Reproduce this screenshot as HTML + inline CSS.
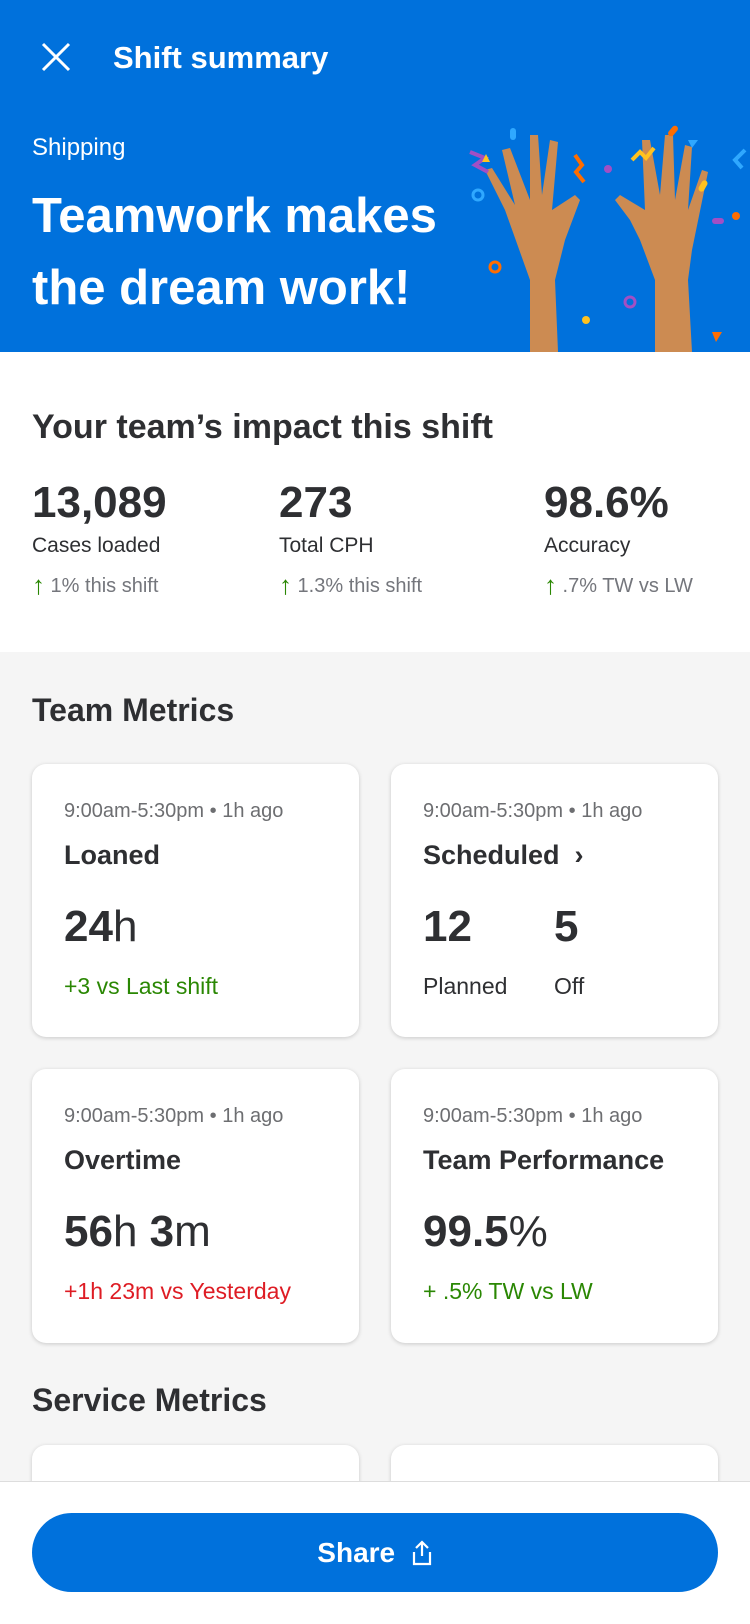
<!DOCTYPE html>
<html><head><meta charset="utf-8"><style>
*{margin:0;padding:0;box-sizing:border-box}
body{width:750px;height:1624px;overflow:hidden;font-family:"Liberation Sans",sans-serif;background:#f5f5f5;position:relative;color:#2e2f32}
.abs{position:absolute;white-space:nowrap}
#hdr{position:absolute;left:0;top:0;width:750px;height:352px;background:#0071dc;color:#fff}
#impact{position:absolute;left:0;top:352px;width:750px;height:300px;background:#fff}
.card{position:absolute;background:#fff;border-radius:14px;box-shadow:0 1px 4px rgba(0,0,0,.18);width:327px}
.card .t{position:absolute;left:32px;top:36px;font-size:20px;color:#6d6e71}
.card .h{position:absolute;left:32px;top:76px;font-size:27px;font-weight:bold}
.card .v{position:absolute;left:32px;top:138px;font-size:44px;font-weight:bold}
.card .c{position:absolute;left:32px;top:209px;font-size:23px}
.num{font-size:44px;font-weight:bold}
.lab{font-size:21px;margin-top:6px}
.chg{font-size:20px;color:#74767c;margin-top:12px}
.chg span{color:#2a8703;font-size:26px;font-weight:normal;vertical-align:-2px}
</style></head><body>
<div id="hdr">
 <svg class="abs" style="left:40px;top:41px" width="32" height="32"><path d="M3 3L29 29M29 3L3 29" stroke="#fff" stroke-width="3"/></svg>
 <div class="abs" style="left:113px;top:40px;font-size:31px;font-weight:bold">Shift summary</div>
 <div class="abs" style="left:32px;top:134px;font-size:24px">Shipping</div>
 <div class="abs" style="left:32px;top:180px;font-size:49px;font-weight:bold;line-height:72px">Teamwork makes<br>the dream work!</div>
 <svg class="abs" style="left:430px;top:100px" width="320" height="252">
  <path d="M100 252L100 180L75 110L55 70L62 68L85 105L72 50L80 48L100 100L100 35L108 35L112 95L120 40L128 42L122 110L145 95L150 100L135 140L125 180L128 252Z" fill="#cc8b52"/>
  <path d="M225 252L225 180L210 140L200 120L185 100L190 95L215 110L212 40L220 40L230 95L235 35L243 35L245 100L255 45L262 47L258 110L272 70L278 72L262 150L258 180L262 252Z" fill="#cc8b52"/>
  <rect x="80" y="28" width="6" height="12" rx="3" fill="#2fa8ff"/><rect x="240" y="25" width="6" height="12" rx="3" fill="#ff6d00" transform="rotate(40 243 31)"/>
  <path d="M40 52L55 58L45 65L58 72" stroke="#a24fc4" stroke-width="4" fill="none"/><path d="M145 55L152 65L146 72L154 82" stroke="#ff6d00" stroke-width="4" fill="none"/>
  <path d="M202 60L210 52L216 58L224 48" stroke="#ffc220" stroke-width="4" fill="none"/><path d="M315 50L305 60L312 68" stroke="#2fa8ff" stroke-width="4" fill="none"/>
  <circle cx="48" cy="95" r="5" fill="none" stroke="#2fa8ff" stroke-width="3"/><circle cx="65" cy="167" r="5" fill="none" stroke="#ff6d00" stroke-width="3"/>
  <circle cx="200" cy="202" r="5" fill="none" stroke="#a24fc4" stroke-width="3"/><circle cx="156" cy="220" r="4" fill="#ffc220"/><circle cx="178" cy="69" r="4" fill="#a24fc4"/><circle cx="306" cy="116" r="4" fill="#ff6d00"/>
  <path d="M52 62L60 62L56 54Z" fill="#ffc220"/><path d="M282 232L292 232L286 242Z" fill="#ff6d00"/><path d="M258 40L268 40L262 48Z" fill="#2fa8ff"/>
  <rect x="270" y="80" width="6" height="12" rx="3" fill="#ffc220" transform="rotate(30 273 86)"/><rect x="282" y="118" width="12" height="6" rx="3" fill="#a24fc4"/>
 </svg>
</div>
<div id="impact">
 <div class="abs" style="left:32px;top:56px;font-size:34px;font-weight:bold">Your team’s impact this shift</div>
 <div class="abs" style="left:32px;top:126px"><div class="num">13,089</div><div class="lab">Cases loaded</div><div class="chg"><span>↑</span> 1% this shift</div></div>
 <div class="abs" style="left:279px;top:126px"><div class="num">273</div><div class="lab">Total CPH</div><div class="chg"><span>↑</span> 1.3% this shift</div></div>
 <div class="abs" style="left:544px;top:126px"><div class="num">98.6%</div><div class="lab">Accuracy</div><div class="chg"><span>↑</span> .7% TW vs LW</div></div>
</div>
<div class="abs" style="left:32px;top:692px;font-size:32px;font-weight:bold">Team Metrics</div>
<div class="card" style="left:32px;top:764px;height:273px"><div class="t">9:00am-5:30pm • 1h ago</div><div class="h">Loaned</div><div class="v">24<span style="font-weight:normal">h</span></div><div class="c" style="color:#2a8703">+3 vs Last shift</div></div>
<div class="card" style="left:391px;top:764px;height:273px"><div class="t">9:00am-5:30pm • 1h ago</div><div class="h">Scheduled &nbsp;›</div><div class="v">12</div><div class="v" style="left:163px">5</div><div class="c">Planned</div><div class="c" style="left:163px">Off</div></div>
<div class="card" style="left:32px;top:1069px;height:274px"><div class="t">9:00am-5:30pm • 1h ago</div><div class="h">Overtime</div><div class="v">56<span style="font-weight:normal">h</span> 3<span style="font-weight:normal">m</span></div><div class="c" style="color:#de1c24">+1h 23m vs Yesterday</div></div>
<div class="card" style="left:391px;top:1069px;height:274px"><div class="t">9:00am-5:30pm • 1h ago</div><div class="h">Team Performance</div><div class="v">99.5<span style="font-weight:normal">%</span></div><div class="c" style="color:#2a8703">+ .5% TW vs LW</div></div>
<div class="abs" style="left:32px;top:1382px;font-size:32px;font-weight:bold">Service Metrics</div>
<div class="card" style="left:32px;top:1445px;height:100px"></div>
<div class="card" style="left:391px;top:1445px;height:100px"></div>
<div class="abs" style="left:0;top:1481px;width:750px;height:143px;background:#fff;border-top:1px solid #ddd"></div>
<div class="abs" style="left:32px;top:1513px;width:686px;height:79px;border-radius:40px;background:#0071dc;color:#fff;font-size:28px;font-weight:bold;display:flex;align-items:center;justify-content:center">Share&nbsp;&nbsp;<svg width="22" height="26"><path d="M11 2L11 16M5 8L11 2L17 8M3 12L3 24L19 24L19 12" stroke="#fff" stroke-width="2.2" fill="none"/></svg></div>
</body></html>
